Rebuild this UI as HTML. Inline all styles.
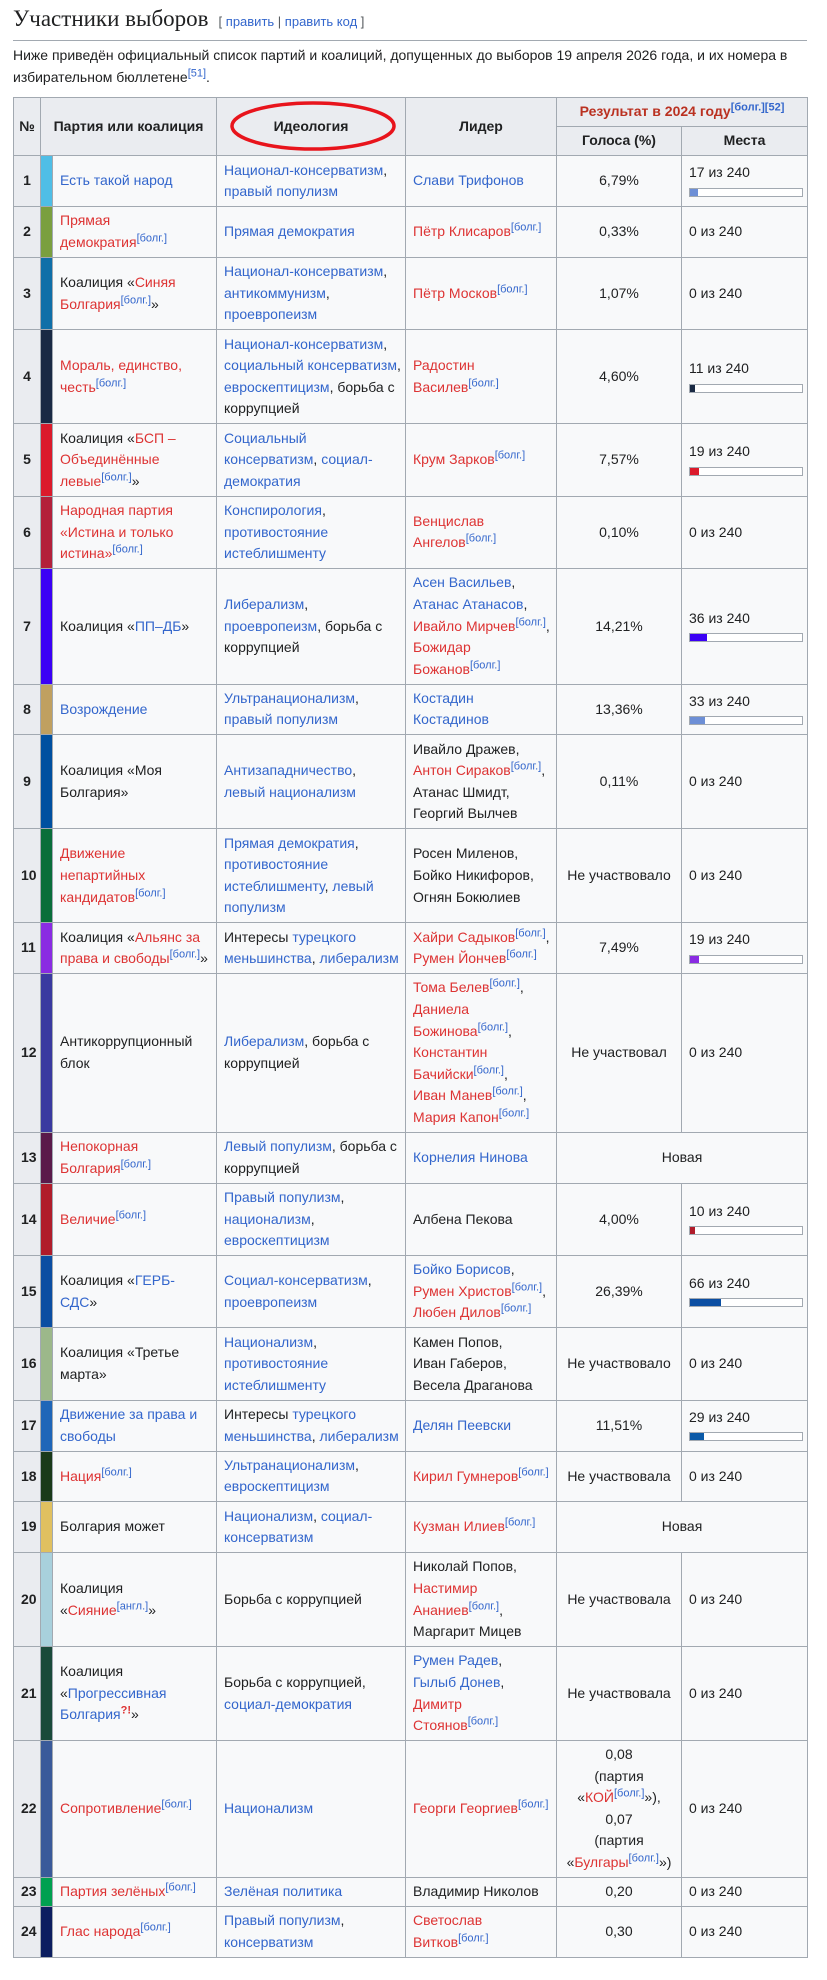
<!DOCTYPE html>
<html><head><meta charset="utf-8">
<style>
body{margin:0;background:#fff;font-family:"Liberation Sans",Arial,sans-serif;color:#202122;width:827px;height:1980px;overflow:hidden;position:relative}
h2{position:absolute;left:13px;top:4px;margin:0;width:794px;font-family:"Liberation Serif",serif;font-weight:normal;font-size:23px;line-height:30px;border-bottom:1px solid #a2a9b1;padding-bottom:3px}
h2 .edit{font-family:"Liberation Sans",sans-serif;font-size:13px;color:#54595d;margin-left:10px}
a{color:#3366cc;text-decoration:none}
.r{color:#d33}
sup{font-size:11px;line-height:1;vertical-align:super}
p.intro{position:absolute;left:13px;top:44px;margin:0;width:800px;font-size:14px;line-height:22px}
table{position:absolute;left:13px;top:97px;width:795px;border-collapse:collapse;font-size:14px;line-height:21.6px;background:#f8f9fa;table-layout:fixed}
td,th{border:1px solid #a2a9b1;padding:3.3px 7px;white-space:nowrap;vertical-align:middle;text-align:left;overflow:visible}
th{background:#eaecf0;text-align:center;font-weight:bold}
th.n{padding:3px 2px}
td.c{padding:0}
td.v{text-align:center;padding:3px 2px}
.bar{width:112px;height:7px;border:1px solid #a2a9b1;background:#fff;margin:4px 0 3px}
.bar div{height:7px}
.res{color:#ba3121}
</style></head><body>
<h2>Участники выборов<span class="edit">[ <a>править</a> | <a>править код</a> ]</span></h2>
<p class="intro">Ниже приведён официальный список партий и коалиций, допущенных до выборов 19 апреля 2026 года, и их номера в избирательном бюллетене<sup><a>[51]</a></sup>.</p>
<svg style="position:absolute;left:0;top:0;z-index:2" width="827" height="300"><ellipse cx="313" cy="126" rx="81" ry="23" fill="none" stroke="#e8141c" stroke-width="3.5"/></svg>
<table>
<colgroup><col style="width:27px"><col style="width:12px"><col style="width:164px"><col style="width:189px"><col style="width:151px"><col style="width:125px"><col style="width:126px"></colgroup>
<thead>
<tr><th rowspan="2" class="n">№</th><th colspan="2" rowspan="2">Партия или коалиция</th><th rowspan="2">Идеология</th><th rowspan="2">Лидер</th><th colspan="2" class="res">Результат в 2024 году<sup><a>[болг.]</a><a>[52]</a></sup></th></tr>
<tr><th>Голоса (%)</th><th>Места</th></tr>
</thead>
<tbody id="tb">
<tr><th>1</th><td class="c" style="background:#4fbee6"></td><td><a>Есть такой народ</a></td><td><a>Национал-консерватизм</a>,<br><a>правый популизм</a></td><td><a>Слави Трифонов</a></td><td class="v">6,79%</td><td class="s"></td></tr>
<tr><th>2</th><td class="c" style="background:#7a9f3f"></td><td><a class="r">Прямая<br>демократия</a><sup><a>[болг.]</a></sup></td><td><a>Прямая демократия</a></td><td><a class="r">Пётр Клисаров</a><sup><a>[болг.]</a></sup></td><td class="v">0,33%</td><td class="s"></td></tr>
<tr><th>3</th><td class="c" style="background:#0f6fa8"></td><td>Коалиция «<a class="r">Синяя<br>Болгария</a><sup><a>[болг.]</a></sup>»</td><td><a>Национал-консерватизм</a>,<br><a>антикоммунизм</a>,<br><a>проевропеизм</a></td><td><a class="r">Пётр Москов</a><sup><a>[болг.]</a></sup></td><td class="v">1,07%</td><td class="s"></td></tr>
<tr><th>4</th><td class="c" style="background:#1a2a44"></td><td><a class="r">Мораль, единство,<br>честь</a><sup><a>[болг.]</a></sup></td><td><a>Национал-консерватизм</a>,<br><a>социальный консерватизм</a>,<br><a>евроскептицизм</a>, борьба с<br>коррупцией</td><td><a class="r">Радостин<br>Василев</a><sup><a>[болг.]</a></sup></td><td class="v">4,60%</td><td class="s"></td></tr>
<tr><th>5</th><td class="c" style="background:#db1a2b"></td><td>Коалиция «<a class="r">БСП –<br>Объединённые<br>левые</a><sup><a>[болг.]</a></sup>»</td><td><a>Социальный<br>консерватизм</a>, <a>социал-<br>демократия</a></td><td><a class="r">Крум Зарков</a><sup><a>[болг.]</a></sup></td><td class="v">7,57%</td><td class="s"></td></tr>
<tr><th>6</th><td class="c" style="background:#b3203a"></td><td><a class="r">Народная партия<br>«Истина и только<br>истина»</a><sup><a>[болг.]</a></sup></td><td><a>Конспирология</a>,<br><a>противостояние<br>истеблишменту</a></td><td><a class="r">Венцислав<br>Ангелов</a><sup><a>[болг.]</a></sup></td><td class="v">0,10%</td><td class="s"></td></tr>
<tr><th>7</th><td class="c" style="background:#3b00f5"></td><td>Коалиция «<a>ПП–ДБ</a>»</td><td><a>Либерализм</a>,<br><a>проевропеизм</a>, борьба с<br>коррупцией</td><td><a>Асен Васильев</a>,<br><a>Атанас Атанасов</a>,<br><a class="r">Ивайло Мирчев</a><sup><a>[болг.]</a></sup>,<br><a class="r">Божидар<br>Божанов</a><sup><a>[болг.]</a></sup></td><td class="v">14,21%</td><td class="s"></td></tr>
<tr><th>8</th><td class="c" style="background:#c0a060"></td><td><a>Возрождение</a></td><td><a>Ультранационализм</a>,<br><a>правый популизм</a></td><td><a>Костадин<br>Костадинов</a></td><td class="v">13,36%</td><td class="s"></td></tr>
<tr><th>9</th><td class="c" style="background:#0050a0"></td><td>Коалиция «Моя<br>Болгария»</td><td><a>Антизападничество</a>,<br><a>левый национализм</a></td><td>Ивайло Дражев,<br><a class="r">Антон Сираков</a><sup><a>[болг.]</a></sup>,<br>Атанас Шмидт,<br>Георгий Вылчев</td><td class="v">0,11%</td><td class="s"></td></tr>
<tr><th>10</th><td class="c" style="background:#0a6e3a"></td><td><a class="r">Движение<br>непартийных<br>кандидатов</a><sup><a>[болг.]</a></sup></td><td><a>Прямая демократия</a>,<br><a>противостояние<br>истеблишменту</a>, <a>левый<br>популизм</a></td><td>Росен Миленов,<br>Бойко Никифоров,<br>Огнян Бокюлиев</td><td class="v">Не участвовало</td><td class="s"></td></tr>
<tr><th>11</th><td class="c" style="background:#8a2be2"></td><td>Коалиция «<a class="r">Альянс за<br>права и свободы</a><sup><a>[болг.]</a></sup>»</td><td>Интересы <a>турецкого<br>меньшинства</a>, <a>либерализм</a></td><td><a class="r">Хайри Садыков</a><sup><a>[болг.]</a></sup>,<br><a class="r">Румен Йончев</a><sup><a>[болг.]</a></sup></td><td class="v">7,49%</td><td class="s"></td></tr>
<tr><th>12</th><td class="c" style="background:#3a3aa0"></td><td>Антикоррупционный<br>блок</td><td><a>Либерализм</a>, борьба с<br>коррупцией</td><td><a class="r">Тома Белев</a><sup><a>[болг.]</a></sup>,<br><a class="r">Даниела<br>Божинова</a><sup><a>[болг.]</a></sup>,<br><a class="r">Константин<br>Бачийски</a><sup><a>[болг.]</a></sup>,<br><a class="r">Иван Манев</a><sup><a>[болг.]</a></sup>,<br><a class="r">Мария Капон</a><sup><a>[болг.]</a></sup></td><td class="v">Не участвовал</td><td class="s"></td></tr>
<tr><th>13</th><td class="c" style="background:#5a1a4a"></td><td><a class="r">Непокорная<br>Болгария</a><sup><a>[болг.]</a></sup></td><td><a>Левый популизм</a>, борьба с<br>коррупцией</td><td><a>Корнелия Нинова</a></td><td class="v" colspan="2">Новая</td></tr>
<tr><th>14</th><td class="c" style="background:#b01c2a"></td><td><a class="r">Величие</a><sup><a>[болг.]</a></sup></td><td><a>Правый популизм</a>,<br><a>национализм</a>,<br><a>евроскептицизм</a></td><td>Албена Пекова</td><td class="v">4,00%</td><td class="s"></td></tr>
<tr><th>15</th><td class="c" style="background:#0b4ea2"></td><td>Коалиция «<a>ГЕРБ-<br>СДС</a>»</td><td><a>Социал-консерватизм</a>,<br><a>проевропеизм</a></td><td><a>Бойко Борисов</a>,<br><a class="r">Румен Христов</a><sup><a>[болг.]</a></sup>,<br><a class="r">Любен Дилов</a><sup><a>[болг.]</a></sup></td><td class="v">26,39%</td><td class="s"></td></tr>
<tr><th>16</th><td class="c" style="background:#9cb88a"></td><td>Коалиция «Третье<br>марта»</td><td><a>Национализм</a>,<br><a>противостояние<br>истеблишменту</a></td><td>Камен Попов,<br>Иван Габеров,<br>Весела Драганова</td><td class="v">Не участвовало</td><td class="s"></td></tr>
<tr><th>17</th><td class="c" style="background:#1f66b8"></td><td><a>Движение за права и<br>свободы</a></td><td>Интересы <a>турецкого<br>меньшинства</a>, <a>либерализм</a></td><td><a>Делян Пеевски</a></td><td class="v">11,51%</td><td class="s"></td></tr>
<tr><th>18</th><td class="c" style="background:#1a3a1a"></td><td><a class="r">Нация</a><sup><a>[болг.]</a></sup></td><td><a>Ультранационализм</a>,<br><a>евроскептицизм</a></td><td><a class="r">Кирил Гумнеров</a><sup><a>[болг.]</a></sup></td><td class="v">Не участвовала</td><td class="s"></td></tr>
<tr><th>19</th><td class="c" style="background:#e0c060"></td><td>Болгария может</td><td><a>Национализм</a>, <a>социал-<br>консерватизм</a></td><td><a class="r">Кузман Илиев</a><sup><a>[болг.]</a></sup></td><td class="v" colspan="2">Новая</td></tr>
<tr><th>20</th><td class="c" style="background:#a8d0dc"></td><td>Коалиция<br>«<a class="r">Сияние</a><sup><a>[англ.]</a></sup>»</td><td>Борьба с коррупцией</td><td>Николай Попов,<br><a class="r">Настимир<br>Ананиев</a><sup><a>[болг.]</a></sup>,<br>Маргарит Мицев</td><td class="v">Не участвовала</td><td class="s"></td></tr>
<tr><th>21</th><td class="c" style="background:#1a4a3a"></td><td>Коалиция<br>«<a>Прогрессивная<br>Болгария</a><sup><b style="color:#d33">?!</b></sup>»</td><td>Борьба с коррупцией,<br><a>социал-демократия</a></td><td><a>Румен Радев</a>,<br><a>Гылыб Донев</a>,<br><a class="r">Димитр<br>Стоянов</a><sup><a>[болг.]</a></sup></td><td class="v">Не участвовала</td><td class="s"></td></tr>
<tr><th>22</th><td class="c" style="background:#3a5a9a"></td><td><a class="r">Сопротивление</a><sup><a>[болг.]</a></sup></td><td><a>Национализм</a></td><td><a class="r">Георги Георгиев</a><sup><a>[болг.]</a></sup></td><td class="v">0,08<br>(партия<br>«<a class="r">КОЙ</a><sup><a>[болг.]</a></sup>»),<br>0,07<br>(партия<br>«<a class="r">Булгары</a><sup><a>[болг.]</a></sup>»)</td><td class="s"></td></tr>
<tr><th>23</th><td class="c" style="background:#00a050"></td><td><a class="r">Партия зелёных</a><sup><a>[болг.]</a></sup></td><td><a>Зелёная политика</a></td><td>Владимир Николов</td><td class="v">0,20</td><td class="s"></td></tr>
<tr><th>24</th><td class="c" style="background:#0c1e60"></td><td><a class="r">Глас народа</a><sup><a>[болг.]</a></sup></td><td><a>Правый популизм</a>,<br><a>консерватизм</a></td><td><a class="r">Светослав<br>Витков</a><sup><a>[болг.]</a></sup></td><td class="v">0,30</td><td class="s"></td></tr>
</tbody></table>
<script>
// seats won in 2024, per ballot row (rows 13 and 19 are "Новая", null)
const seatsWon = [17,0,0,11,19,0,36,33,0,0,19,0,null,10,66,0,29,0,null,0,0,0,0,0];
const seatsTotal = 240;
const barColors = ["#6d8fd6","#7a9f3f","#0f6fa8","#1a2a44","#db1a2b","#b3203a","#3b00f5","#6d8fd6","#0050a0","#0a6e3a","#8a2be2","#3a3aa0","#5a1a4a","#b01c2a","#0b4ea2","#9cb88a","#0b5aa8","#1a3a1a","#e0c060","#a8d0dc","#1a4a3a","#3a5a9a","#00a050","#0c1e60"];
const BAR_W = 112;
function xScale(v){ return v / seatsTotal * BAR_W; }
const rows = document.querySelectorAll('#tb tr');
rows.forEach((tr, i) => {
  
  
  const cell = tr.querySelector('td.s');
  if (!cell || seatsWon[i] === null) return;
  
  
  const t = document.createElement('div');
  t.textContent = seatsWon[i] + ' из ' + seatsTotal;
  cell.appendChild(t);
  if (seatsWon[i] > 0) {
    const box = document.createElement('div');
    box.className = 'bar';
    
    
    const fill = document.createElement('div');
    
    
    fill.style.width = xScale(seatsWon[i]) + 'px';
    fill.style.background = barColors[i];
    box.appendChild(fill);
    cell.appendChild(box);
  }
});
document.querySelectorAll('#tb a, thead a').forEach(a => {
  
  
});
</script>
</body></html>
